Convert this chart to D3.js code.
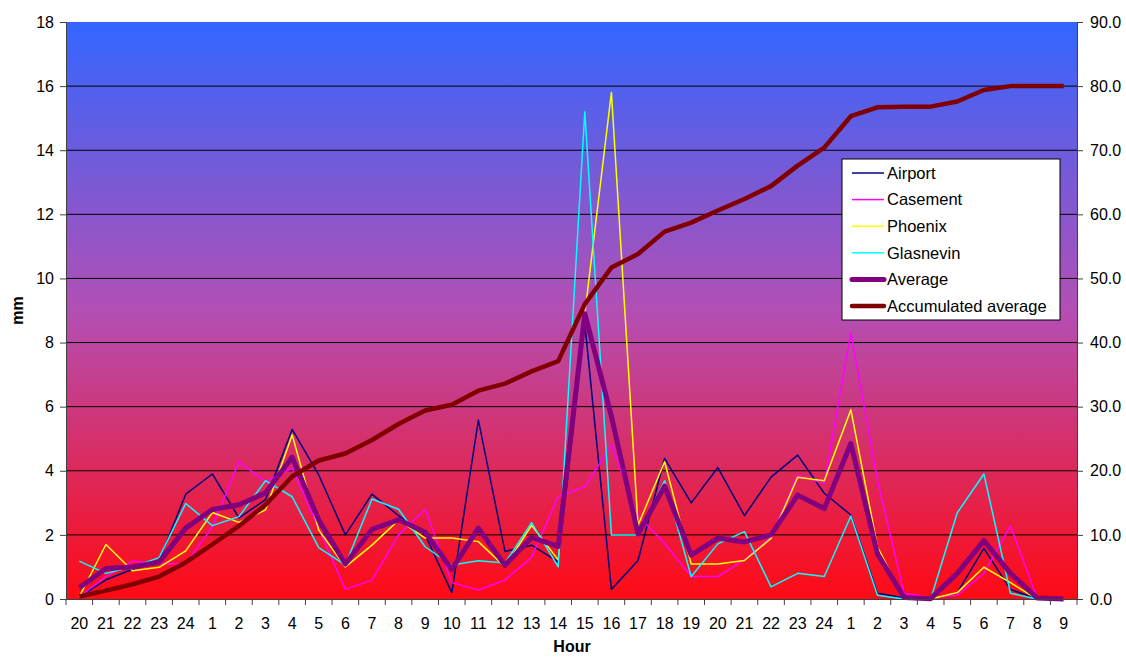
<!DOCTYPE html>
<html>
<head>
<meta charset="utf-8">
<script src="https://cdn.jsdelivr.net/npm/d3@7"></script>
<style>
  body { margin: 0; background: #fff; }
  svg { font-family: "Liberation Sans", Arial, sans-serif; }
</style>
</head>
<body>
<svg width="1126" height="657"></svg>
<script>
const hours = ['20', '21', '22', '23', '24', '1', '2', '3', '4', '5', '6', '7', '8', '9', '10', '11', '12', '13', '14',
  '15', '16', '17', '18', '19', '20', '21', '22', '23', '24', '1', '2', '3', '4', '5', '6', '7', '8', '9'];
const airport = [0.07, 0.6, 0.93, 1.2, 3.27, 3.9, 2.53, 3.1, 5.29, 3.87, 2.0, 3.27, 2.6, 2.0, 0.2, 5.58, 1.48, 1.68, 1.16,
  8.6, 0.3, 1.2, 4.39, 3.0, 4.1, 2.6, 3.8, 4.49, 3.3, 2.62, 0.18, 0.03, 0, 0.2, 1.58, 0.3, 0, 0];
const casement = [0.07, 0.7, 1.18, 1.1, 1.1, 2.25, 4.28, 3.66, 4.08, 2.2, 0.3, 0.59, 2.0, 2.8, 0.51, 0.28, 0.59, 1.3, 3.19,
  3.5, 4.8, 2.6, 1.74, 0.7, 0.7, 1.22, 1.94, 3.87, 3.6, 8.3, 3.7, 0.18, 0.05, 0.12, 0.8, 2.28, 0.03, 0];
const phoenix = [0.07, 1.7, 0.88, 0.99, 1.5, 2.7, 2.39, 2.78, 5.12, 2.15, 1.0, 1.68, 2.46, 1.9, 1.9, 1.79, 1.0, 2.3, 1.22,
  8.9, 15.8, 2.3, 4.28, 1.09, 1.09, 1.2, 1.89, 3.8, 3.69, 5.9, 1.63, 0, 0, 0.2, 0.99, 0.51, 0, 0];
const glasnevin = [1.18, 0.8, 1.0, 1.29, 2.98, 2.29, 2.57, 3.69, 3.19, 1.6, 1.06, 3.12, 2.8, 1.63, 1.06, 1.19, 1.12, 2.38, 1.0,
  15.2, 2.0, 2.0, 3.69, 0.7, 1.72, 2.1, 0.38, 0.8, 0.7, 2.59, 0.12, 0, 0, 2.69, 3.9, 0.18, 0, 0];
const average = [0.35, 0.95, 1.0, 1.15, 2.21, 2.79, 2.94, 3.31, 4.42, 2.46, 1.09, 2.17, 2.47, 2.08, 0.92, 2.21, 1.05, 1.92, 1.64,
  8.9, 5.7, 2.03, 3.52, 1.37, 1.9, 1.78, 2.0, 3.24, 2.82, 4.85, 1.41, 0.05, 0.01, 0.8, 1.82, 0.8, 0.03, 0];
const accumulated = [0.4, 1.3, 2.3, 3.5, 5.7, 8.5, 11.4, 14.7, 19.1, 21.6, 22.7, 24.8, 27.3, 29.4, 30.3, 32.5, 33.6, 35.5, 37.1,
  46.0, 51.7, 53.8, 57.3, 58.7, 60.6, 62.4, 64.4, 67.6, 70.4, 75.3, 76.7, 76.8, 76.8, 77.6, 79.4, 80.0, 80.0, 80.0];
const leftTicks = [0, 2, 4, 6, 8, 10, 12, 14, 16, 18];
const rightTicks = [0, 10, 20, 30, 40, 50, 60, 70, 80, 90];

const series = [
  { name: 'Airport', values: airport, color: '#000080', width: 1.5, axis: 'left' },
  { name: 'Casement', values: casement, color: '#ff00ff', width: 1.5, axis: 'left' },
  { name: 'Phoenix', values: phoenix, color: '#ffff00', width: 1.5, axis: 'left' },
  { name: 'Glasnevin', values: glasnevin, color: '#00ffff', width: 1.5, axis: 'left' },
  { name: 'Average', values: average, color: '#800080', width: 5, axis: 'left' },
  { name: 'Accumulated average', values: accumulated, color: '#800000', width: 4.5, axis: 'right' }
];

const svg = d3.select('svg');
const margin = { top: 22, right: 49, bottom: 58, left: 66 };
const width = +svg.attr('width') - margin.left - margin.right;
const height = +svg.attr('height') - margin.top - margin.bottom;

const defs = svg.append('defs');
const grad = defs.append('linearGradient')
  .attr('id', 'bg').attr('x1', 0).attr('y1', 0).attr('x2', 0).attr('y2', 1);
grad.append('stop').attr('offset', '0%').attr('stop-color', '#3366ff');
grad.append('stop').attr('offset', '50%').attr('stop-color', '#b34fb4');
grad.append('stop').attr('offset', '100%').attr('stop-color', '#ff0a14');

const g = svg.append('g').attr('transform', `translate(${margin.left},${margin.top})`);

const x = d3.scaleBand().domain(hours.map((d, i) => i)).range([0, width]);
const y = d3.scaleLinear().domain([0, 18]).range([height, 0]);
const y2 = d3.scaleLinear().domain([0, 90]).range([height, 0]);

g.append('rect').attr('width', width).attr('height', height).attr('fill', 'url(#bg)');

// grid
g.selectAll('.grid')
  .data(leftTicks.slice(1, -1))
  .enter()
  .append('line')
  .attr('x1', 0).attr('x2', width)
  .attr('y1', d => y(d)).attr('y2', d => y(d))
  .attr('stroke', '#000').attr('stroke-width', 1);

const line = (scale) => d3.line()
  .x((d, i) => x(i) + x.bandwidth() / 2)
  .y(d => scale(d));

g.selectAll('.series')
  .data(series)
  .enter()
  .append('path')
  .attr('fill', 'none')
  .attr('stroke', d => d.color)
  .attr('stroke-width', d => d.width)
  .attr('stroke-linejoin', 'round')
  .attr('d', d => line(d.axis === 'left' ? y : y2)(d.values));

// axes
const xAxis = g.append('g')
  .attr('transform', `translate(0,${height})`)
  .call(d3.axisBottom(x).tickSize(0).tickFormat(i => hours[i]));
xAxis.selectAll('text').attr('y', 30).attr('dy', 0).attr('font-size', '16px').attr('fill', '#000');
xAxis.select('.domain').attr('stroke', '#404040');
xAxis.selectAll('.boundary')
  .data(d3.range(hours.length + 1))
  .enter()
  .append('line')
  .attr('x1', i => i * x.step()).attr('x2', i => i * x.step())
  .attr('y1', 0).attr('y2', 6)
  .attr('stroke', '#404040');

const yAxis = g.append('g')
  .call(d3.axisLeft(y).tickValues(leftTicks).tickSize(6).tickPadding(6));
yAxis.selectAll('text').attr('font-size', '16px').attr('fill', '#000');
yAxis.selectAll('line, .domain').attr('stroke', '#404040');

const y2Axis = g.append('g')
  .attr('transform', `translate(${width},0)`)
  .call(d3.axisRight(y2).tickValues(rightTicks).tickFormat(d3.format('.1f')).tickSize(6).tickPadding(7));
y2Axis.selectAll('text').attr('font-size', '16px').attr('fill', '#000');
y2Axis.selectAll('line, .domain').attr('stroke', '#404040');

svg.append('text')
  .attr('transform', `translate(23,${margin.top + height / 2}) rotate(-90)`)
  .attr('text-anchor', 'middle')
  .attr('font-size', '16px').attr('font-weight', 'bold')
  .text('mm');

svg.append('text')
  .attr('x', 572).attr('y', 652)
  .attr('text-anchor', 'middle')
  .attr('font-size', '16px').attr('font-weight', 'bold')
  .text('Hour');

// legend
const legend = svg.append('g').attr('transform', 'translate(842,159)');
legend.append('rect')
  .attr('width', 218).attr('height', 161)
  .attr('fill', '#fff').attr('stroke', '#000');
const items = legend.selectAll('.item')
  .data(series)
  .enter()
  .append('g')
  .attr('transform', (d, i) => `translate(0,${14 + i * 26.6})`);
items.append('line')
  .attr('x1', 10).attr('x2', 42)
  .attr('stroke', d => d.color)
  .attr('stroke-width', d => d.width)
  .attr('stroke-linecap', d => d.width > 2 ? 'round' : 'butt');
items.append('text')
  .attr('x', 45).attr('dy', '0.35em')
  .attr('font-size', '16.5px')
  .text(d => d.name);
</script>
</body>
</html>
